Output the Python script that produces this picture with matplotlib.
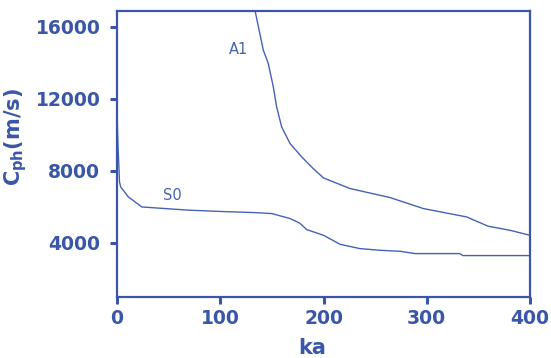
import matplotlib
matplotlib.use('Agg')
import matplotlib.pyplot as plt

# S0 mode, phase velocity vs ka
s0_ka = [0, 1, 2, 2.4, 3.6, 11, 24, 41.6, 70.7, 103, 132, 150, 167.6, 177, 183.7,
         200, 216, 235, 254.7, 274, 288.6, 332, 335, 400]
s0_c = [11200, 9370, 8000, 7390, 7110, 6555, 6000, 5930, 5817, 5744, 5689, 5633, 5355,
        5100, 4744, 4427, 3928, 3689, 3594, 3539, 3411, 3411, 3300, 3300]

# A1 mode
a1_ka = [133.7, 141.7, 146.5, 151.4, 154.6, 159.5, 167.6, 178.9, 190, 200, 225.7,
         264.4, 296.7, 338.7, 359.6, 380.6, 400]
a1_c = [16900, 14705, 13967, 12667, 11555, 10444, 9522, 8778, 8133, 7611, 7022,
        6522, 5911, 5444, 4928, 4705, 4427]

xticks = [0, 100, 200, 300, 400]
yticks = [4000, 8000, 12000, 16000]

blue = '#3a56a8'
line_blue = '#4562b4'

fig = plt.figure(figsize=(5.51, 3.58), dpi=100)
ax = fig.add_axes([117/551, 1 - 297/358, (530 - 117)/551, (297 - 11)/358])

ax.plot(s0_ka, s0_c, color=line_blue, lw=1.0)
ax.plot(a1_ka, a1_c, color=line_blue, lw=1.0)

ax.text(54, 6622, 'S0', color=line_blue, fontsize=10.5, ha='center', va='center')
ax.text(118, 14761, 'A1', color=line_blue, fontsize=10.5, ha='center', va='center')

ax.set_xlim(0, 400)
ax.set_ylim(1000, 16880)
ax.set_xticks(xticks)
ax.set_yticks(yticks)

for s in ax.spines.values():
    s.set_color(blue)
    s.set_linewidth(1.6)

ax.tick_params(axis='both', direction='out', length=5, width=2.2, colors=blue,
               labelsize=13.5)
ax.tick_params(axis='x', pad=4)
ax.tick_params(axis='y', pad=7)
for lab in ax.get_xticklabels() + ax.get_yticklabels():
    lab.set_fontweight('bold')

fig.text(16/551, 1 - 137/358, r'$\mathbf{C_{ph}}$(m/s)', rotation=90, color=blue,
         fontsize=15, fontweight='bold', ha='center', va='center')
fig.text(312/551, 1 - 348/358, 'ka', color=blue, fontsize=15, fontweight='bold',
         ha='center', va='center')

plt.savefig('out.png', dpi=100)
plt.close()
